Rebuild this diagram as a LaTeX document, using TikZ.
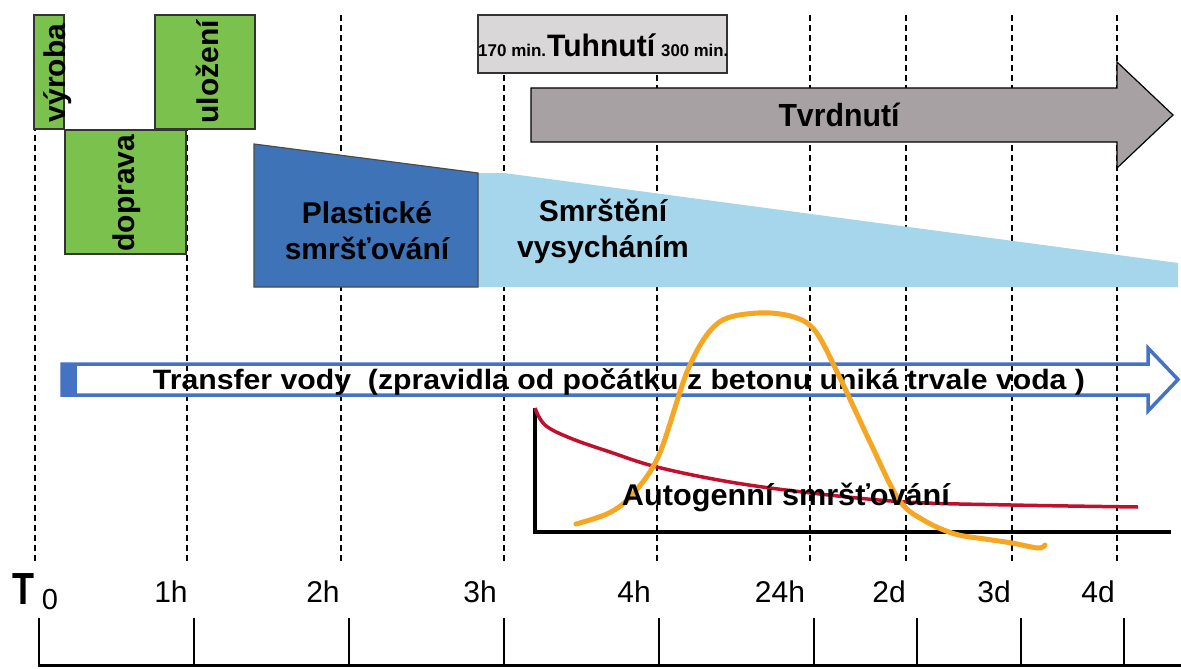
\documentclass[tikz,border=0pt]{standalone}
\usepackage{fontspec}
\setmainfont{Liberation Sans}
\usepackage{graphicx}
\definecolor{boxgreen}{HTML}{7AC14D}
\definecolor{plblue}{HTML}{3F73B8}
\definecolor{ltblue}{HTML}{A6D6EC}
\definecolor{arrgray}{HTML}{A8A1A4}
\definecolor{tuhgray}{HTML}{D9D7D7}
\definecolor{trblue}{HTML}{4472C4}
\definecolor{autored}{HTML}{C0102E}
\definecolor{autoorange}{HTML}{F5A623}
\newcommand{\sqz}[2]{\resizebox{#1}{\height}{#2}}
\newcommand{\bfthirty}{\fontsize{30}{36}\selectfont\bfseries}
\newcommand{\axlab}{\fontsize{30}{30}\selectfont}
\begin{document}
\begin{tikzpicture}[x=1pt,y=-1pt,
  vline/.style={line width=1.8pt,dash pattern=on 6pt off 4pt},
  gbox/.style={fill=boxgreen,draw=black!80,line width=1.2pt},
  vtext/.style={rotate=90,inner sep=0pt,font=\bfthirty},
  btext/.style={inner sep=0pt,font=\bfthirty,align=center},
  alab/.style={inner sep=0pt,font=\axlab},
  tick/.style={line width=1.6pt}]
\useasboundingbox (0,0) rectangle (1181,669);
\fill[white] (0,0) rectangle (1181,669);
% dashed guide lines
\foreach \x in {35,187,341,504,657,810,906,1012,1117}
  \draw[vline] (\x,15) -- (\x,562);
% green boxes
\draw[gbox] (34,15) rectangle (64,129);
\draw[gbox] (155,15) rectangle (255,129);
\draw[gbox] (65,130) rectangle (186,254);
\node[vtext] (vyroba) at (58,73) {výroba};
\node[vtext] (ulozeni) at (207,72) {uložení};
\node[vtext] (doprava) at (127,193) {doprava};
% Tuhnuti box
\draw[fill=tuhgray,draw=black!80,line width=1.2pt] (478,15) rectangle (727,73);
\node[inner sep=0pt,anchor=base west] (tuh170) at (478,57)
  {\sqz{68pt}{\fontsize{17}{17}\selectfont\bfseries 170 min.}};
\node[inner sep=0pt,anchor=base west] (tuhnuti) at (547,57)
  {\sqz{108pt}{\fontsize{31}{31}\selectfont\bfseries Tuhnutí}};
\node[inner sep=0pt,anchor=base west] (tuh300) at (661,57)
  {\sqz{67pt}{\fontsize{17}{17}\selectfont\bfseries 300 min.}};
% Tvrdnuti arrow
\draw[fill=arrgray,draw=black,line width=1.2pt]
  (531,88) -- (1117,88) -- (1117,62) -- (1173,115) -- (1117,168) -- (1117,142) -- (531,142) -- cycle;
\node[btext] (tvrdnuti) at (839,115) {\sqz{121pt}{\fontsize{32}{32}\selectfont Tvrdnutí}};
% shrinkage wedges
\fill[ltblue] (478,173) -- (504,173) -- (1178,263) -- (1178,287) -- (478,287) -- cycle;
\draw[fill=plblue,draw=black!70,line width=1.2pt] (254,144) -- (478,173) -- (478,287) -- (254,287) -- cycle;
\node[btext] (plast) at (367,231) {Plastické\\smršťování};
\node[btext] (smrst) at (603,231) {Smrštění\\vysycháním};
% Transfer arrow
\fill[trblue] (62,363) rectangle (77,395);
\draw[trblue,line width=3.5pt,line join=miter]
  (62,364) -- (1148,364) -- (1148,348) -- (1178,379.5) -- (1148,411) -- (1148,395) -- (62,395) -- cycle;
\node[inner sep=0pt] (transfer) at (619,382)
  {\sqz{932pt}{\fontsize{28}{28}\selectfont\bfseries Transfer vody\ \ (zpravidla od počátku z betonu uniká trvale voda )}};
% Autogenni graph
\draw[line width=4pt,line cap=rect] (535,410) -- (535,532) -- (1169,532);
\draw[autored,line width=3.5pt] plot[smooth,tension=0.6] coordinates
  {(535,408) (545,425) (570,438) (610,452) (657,467) (730,482) (811,493) (906,502) (1011,505) (1138,507)};
\draw[autoorange,line width=5pt,line cap=round] plot[smooth,tension=0.55] coordinates
  {(576,524) (609,513) (632,495) (659,455) (689,367) (718,323) (758,313) (794,317) (816,332) (840,378) (870,442) (899,500) (925,521) (955,534) (985,539) (1012,543) (1038,548) (1045,545)};
\node[inner sep=0pt] (autogen) at (786,497)
  {\sqz{328pt}{\fontsize{30}{30}\selectfont\bfseries Autogenní smršťování}};
% axis labels
\node[inner sep=0pt,anchor=base] (t0) at (23,604) {\scalebox{0.8}[1]{\fontsize{45}{45}\selectfont\bfseries T}};
\node[inner sep=0pt,anchor=base] (t0sub) at (50,609) {\fontsize{29}{29}\selectfont 0};
\node[alab,anchor=base] (l1h) at (171,602) {1h};
\node[alab,anchor=base] (l2h) at (323,602) {2h};
\node[alab,anchor=base] (l3h) at (480,602) {3h};
\node[alab,anchor=base] (l4h) at (634,602) {4h};
\node[alab,anchor=base] (l24h) at (780,602) {24h};
\node[alab,anchor=base] (l2d) at (889,602) {2d};
\node[alab,anchor=base] (l3d) at (994,602) {3d};
\node[alab,anchor=base] (l4d) at (1098,602) {4d};
% bottom axis
\draw[line width=3pt] (38,665) -- (1181,665);
\foreach \x in {39,194,349,504,659,814,917,1021,1124}
  \draw[tick] (\x,618) -- (\x,665);
\end{tikzpicture}
\end{document}
